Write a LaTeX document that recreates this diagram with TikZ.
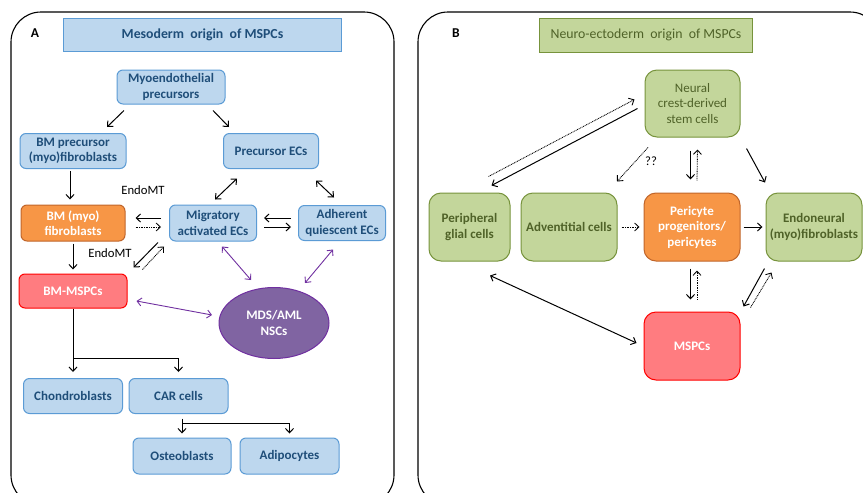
\documentclass[tikz,border=0pt]{standalone}
\usepackage{fontspec}
\setmainfont{Carlito}
\usetikzlibrary{arrows.meta,shapes.geometric}
\definecolor{bfill}{HTML}{BDD7EE}
\definecolor{bdraw}{HTML}{5B9BD5}
\definecolor{btext}{HTML}{1F4E79}
\definecolor{gfill}{HTML}{C3D69B}
\definecolor{gdraw}{HTML}{77933C}
\definecolor{gtext}{HTML}{4F6228}
\definecolor{ofill}{HTML}{F79646}
\definecolor{odraw}{HTML}{C0652A}
\definecolor{rfill}{HTML}{FF7C80}
\definecolor{rdraw}{HTML}{FF0000}
\definecolor{pfill}{HTML}{8064A2}
\definecolor{pdraw}{HTML}{7030A0}
\tikzset{
  nodefont/.style={font=\bfseries\fontsize{13}{15.5}\selectfont},
  base/.style={align=center, inner sep=0pt, line width=1pt, nodefont},
  bbox/.style={base, draw=bdraw, fill=bfill, text=btext, rounded corners=6pt},
  obox/.style={base, draw=odraw, fill=ofill, text=white, rounded corners=6pt},
  rbox/.style={base, draw=rdraw, fill=rfill, text=white, rounded corners=6pt},
  gbox/.style={base, draw=gdraw, fill=gfill, text=gtext, rounded corners=12pt},
  gobox/.style={base, draw=odraw, fill=ofill, text=white, rounded corners=12pt},
  grbox/.style={base, draw=rdraw, fill=rfill, text=white, rounded corners=12pt},
  sz/.style 2 args={minimum width=#1pt, minimum height=#2pt},
  tip/.style={Straight Barb[length=4.3pt,width=8pt]},
  arr/.style={-{Straight Barb[length=4.3pt,width=8pt]}, line width=1pt},
  darr/.style={{Straight Barb[length=4.3pt,width=8pt]}-{Straight Barb[length=4.3pt,width=8pt]}, line width=1pt},
  dotarr/.style={arr, line width=0.85pt, dash pattern=on 0.9pt off 0.8pt},
  parr/.style={darr, draw=pdraw, line width=0.9pt},
  frame/.style={draw=black, line width=1.1pt, rounded corners=30pt},
  lbl/.style={font=\fontsize{12.7}{14}\selectfont, inner sep=0pt},
  panellbl/.style={font=\bfseries\fontsize{13.5}{15}\selectfont, inner sep=0pt},
}
\begin{document}
\begin{tikzpicture}[x=1pt,y=-1pt]
\useasboundingbox (0,0) rectangle (863,493);
\clip (0,0) rectangle (863,493);
% frames
\draw[frame] (11,12) rectangle (394,505);
\draw[frame] (418,12) rectangle (880,505);
\node[panellbl] (labA) at (35,33) {A};
\node[panellbl] (labB) at (456,33) {B};
% titles
\node[bbox, rounded corners=0pt, sz={278}{33}, font=\bfseries\fontsize{13.8}{15}\selectfont] (titA) at (202.5,35) {Mesoderm\ \ origin\ \ of MSPCs};
\node[gbox, rounded corners=0pt, sz={213}{34}, font=\fontsize{13.8}{15}\selectfont] (titB) at (646,35) {Neuro-ectoderm\ \ origin\ \ of MSPCs};
% left nodes
\node[bbox, sz={108}{34}] (myo) at (171,87) {Myoendothelial\\precursors};
\node[bbox, sz={106}{35}] (bmp) at (73,151) {BM precursor\\(myo)fibroblasts};
\node[bbox, sz={95}{35}] (pec) at (271,151) {Precursor ECs};
\node[obox, sz={104}{36}] (bmf) at (73,223) {BM (myo)\\fibroblasts};
\node[bbox, sz={87}{36}] (mig) at (213,223) {Migratory\\activated ECs};
\node[bbox, sz={87}{35}] (adh) at (342,223) {Adherent\\quiescent ECs};
\node[rbox, sz={108}{34}] (bms) at (73,291) {BM-MSPCs};
\node[ellipse, draw=pdraw, fill=pfill, text=white, line width=1pt, nodefont, align=center, inner sep=0pt, minimum width=110pt, minimum height=71pt] (mds) at (274,323) {MDS/AML\\NSCs};
\node[bbox, sz={99}{35}] (cho) at (73,396) {Chondroblasts};
\node[bbox, sz={99}{35}] (car) at (178.5,396) {CAR cells};
\node[bbox, sz={98}{36}] (ost) at (182,456) {Osteoblasts};
\node[bbox, sz={99}{36}] (adi) at (289.5,456) {Adipocytes};
\node[lbl] (em1) at (143,190) {EndoMT};
\node[lbl] (em2) at (110,253) {EndoMT};
% left arrows
\draw[arr] ([shift={(-47,6)}]myo.south) -- ([shift={(34,-6)}]bmp.north);
\draw[arr] ([shift={(42,6)}]myo.south) -- ([shift={(-42,-6)}]pec.north);
\draw[arr] ([shift={(-3,2)}]bmp.south) -- ([shift={(-3,-5)}]bmf.north);
\draw[arr] ([shift={(-8,-5)}]mig.west) -- ([shift={(10,-5)}]bmf.east);
\draw[dotarr] ([shift={(10,4)}]bmf.east) -- ([shift={(-8,4)}]mig.west);
\draw[arr] ([shift={(-7,-5)}]adh.west) -- ([shift={(7,-5)}]mig.east);
\draw[arr] ([shift={(7,4)}]mig.east) -- ([shift={(-7,4)}]adh.west);
\draw[darr] ([shift={(2,-5)}]mig.north) -- ([shift={(-34,9.5)}]pec.south);
\draw[darr] ([shift={(45,11.5)}]pec.south) -- ([shift={(-8,-7.5)}]adh.north);
\draw[arr] ([shift={(0,2)}]bmf.south) -- ([shift={(0,-4)}]bms.north);
\draw[arr] ([shift={(-11,1)}]mig.south west) -- ([shift={(6,-6)}]bms.north east);
\draw[dotarr] ([shift={(15,-4)}]bms.north east) -- ([shift={(-5,5)}]mig.south west);
\draw[parr] ([shift={(9,5)}]mig.south) -- ([shift={(-23,-43)}]mds.center);
\draw[parr] ([shift={(-9,8.5)}]adh.south) -- ([shift={(31,-40)}]mds.center);
\draw[parr] ([shift={(9,10)}]bms.east) -- ([shift={(-62,-8)}]mds.center);
\draw[arr] (bms.south) -- ([shift={(0,-6)}]cho.north);
\draw[arr] ([shift={(0,50)}]bms.south) -| ([shift={(0,-6)}]car.north);
\draw[arr] ([shift={(3.5,4.5)}]car.south) -- ([shift={(0,-4)}]ost.north);
\draw[arr] ([shift={(3.5,9.5)}]car.south) -| ([shift={(0,-4)}]adi.north);
% right nodes
\node[gbox, sz={95}{67}, font=\fontsize{13}{15.5}\selectfont] (ncs) at (692.5,103.5) {Neural\\crest-derived\\stem cells};
\node[gbox, sz={81}{68}] (pgc) at (469.5,227) {Peripheral\\glial cells};
\node[gbox, sz={96}{68}] (adv) at (569,227) {Adventitial cells};
\node[gobox, sz={96}{68}] (per) at (692,227) {Pericyte\\progenitors/\\pericytes};
\node[gbox, sz={96}{68}] (end) at (814,227) {Endoneural\\(myo)fibroblasts};
\node[grbox, sz={96}{68}] (msp) at (692,346) {MSPCs};
\node[lbl] (qq) at (651,161) {??};
% right arrows
\draw[arr] ([shift={(-7,5)}]ncs.west) -- ([shift={(22,-7)}]pgc.north);
\draw[dotarr] ([shift={(19,-16)}]pgc.north) -- ([shift={(-10,-4)}]ncs.west);
\draw[dotarr] ([shift={(-44.5,10)}]ncs.south) -- ([shift={(48,-11)}]adv.north);
\draw[arr] ([shift={(-2,13)}]ncs.south) -- ([shift={(-1.5,-13)}]per.north);
\draw[dotarr] ([shift={(5,-12)}]per.north) -- ([shift={(5,12)}]ncs.south);
\draw[arr] ([shift={(6,11)}]ncs.south east) -- ([shift={(-49,-10)}]end.north);
\draw[dotarr] ([shift={(4,0)}]adv.east) -- ([shift={(-4,0)}]per.west);
\draw[arr] ([shift={(3,0)}]per.east) -- ([shift={(-3,0)}]end.west);
\draw[arr] ([shift={(-1.5,7)}]per.south) -- ([shift={(-1.5,-12)}]msp.north);
\draw[dotarr] ([shift={(5,-12)}]msp.north) -- ([shift={(5,9)}]per.south);
\draw[arr] ([shift={(-1,7)}]end.south west) -- ([shift={(3,-5)}]msp.north east);
\draw[dotarr] ([shift={(10,-4)}]msp.north east) -- ([shift={(6,11)}]end.south west);
\draw[darr] ([shift={(20.5,14)}]pgc.south) -- ([shift={(-7,-3)}]msp.west);
\end{tikzpicture}
\end{document}
